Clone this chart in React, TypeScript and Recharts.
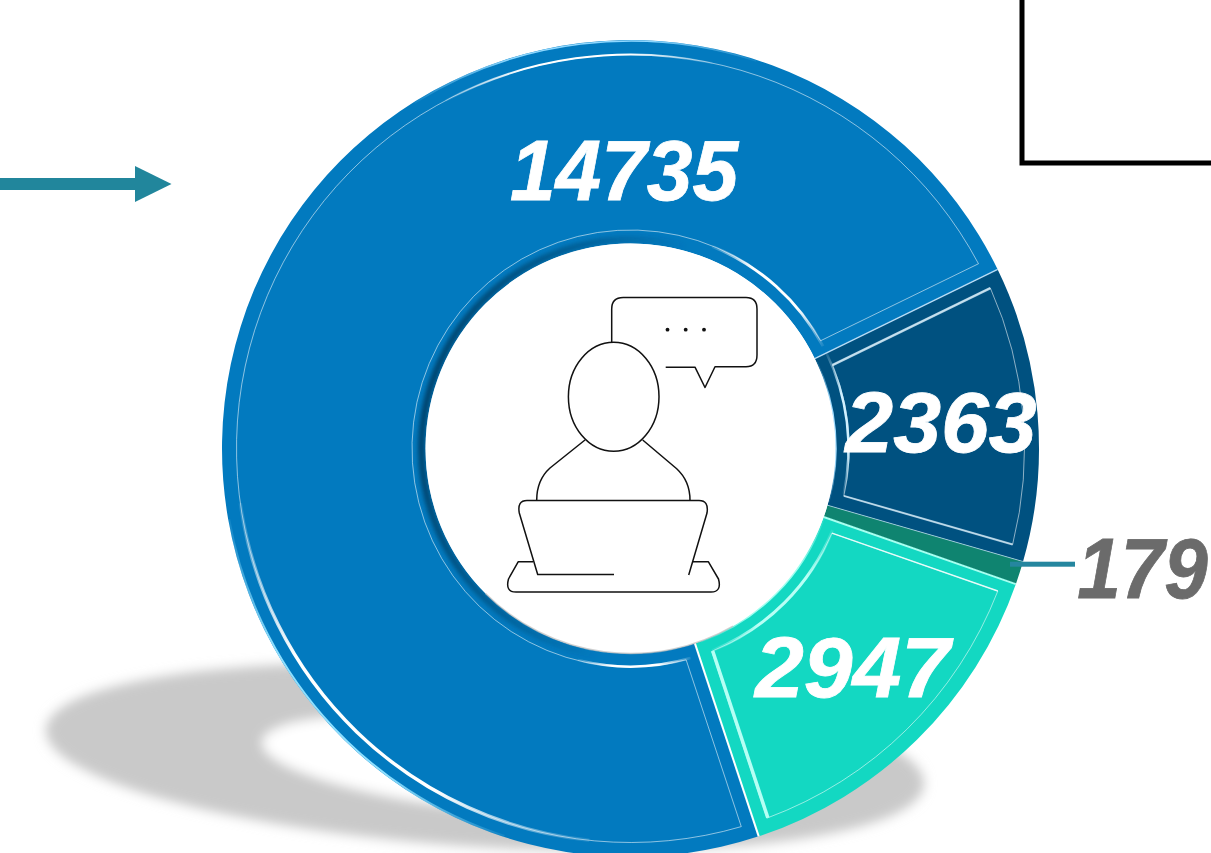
import { Pie, PieChart, Sector } from "recharts";

const sliceValues = [14735, 2947, 179, 2363];
const sliceColors = ["#027abf", "#13d8c2", "#0f8470", "#005180"];
const labelColors = ["#ffffff", "#ffffff", "#6b6b6b", "#ffffff"];
const labelCenters = [
  [624, 200],
  [852.5, 697],
  [1142.5, 598],
  [941, 452],
];
const labelStretch = [0.954, 1.02, 0.91, 1];

const data = sliceValues.map((value, i) => ({ value, fill: sliceColors[i] }));

const W = 1211;
const H = 853;
const CX = 630.5;
const CY = 448.5;
const OUTER = 408.5;
const INNER = 205;
const BEVEL = 13.5;

// curved glints on the bevel, as [radius, from angle, to angle, width, colour]
type Glint = [number, number, number, number, string];
const glints: Glint[][] = [
  [
    [394, 188, 264, 3.5, "#ffffff"],
    [394, 78, 118, 2, "#ffffff"],
    [218, 28, 68, 3, "#ffffff"],
    [218, 256, 286, 2.5, "#ffffff"],
    [407.5, 190, 252, 2, "#8fe0ff"],
    [407.5, 72, 122, 1.5, "#8fd8ff"],
  ],
  [
    [218, 292, 338, 3, "#b8fff5"],
    [205.5, 290, 340, 2, "#9ffff0"],
  ],
  [],
  [
    [218, 348, 386, 2.5, "#d0f0ff"],
    [205.5, 345, 385, 1.5, "#a0dcff"],
  ],
];

const rad = (deg: number) => (deg * Math.PI) / 180;
const px = (r: number, a: number) => CX + r * Math.cos(rad(a));
const py = (r: number, a: number) => CY - r * Math.sin(rad(a));

function arc(r: number, a0: number, a1: number) {
  const large = Math.abs(a1 - a0) > 180 ? 1 : 0;
  return `M${px(r, a0)} ${py(r, a0)}A${r} ${r} 0 ${large} 0 ${px(r, a1)} ${py(r, a1)}`;
}

function panelPath(a0: number, a1: number) {
  const ro = OUTER - 14.5;
  const ri = INNER + BEVEL;
  const oo = (Math.asin(BEVEL / ro) * 180) / Math.PI;
  const oi = (Math.asin(BEVEL / ri) * 180) / Math.PI;
  const large = a1 - oo - (a0 + oo) > 180 ? 1 : 0;
  return (
    `M${px(ro, a0 + oo)} ${py(ro, a0 + oo)}` +
    `A${ro} ${ro} 0 ${large} 0 ${px(ro, a1 - oo)} ${py(ro, a1 - oo)}` +
    `L${px(ri, a1 - oi)} ${py(ri, a1 - oi)}` +
    `A${ri} ${ri} 0 ${large} 1 ${px(ri, a0 + oi)} ${py(ri, a0 + oi)}Z`
  );
}

function radial(a: number, r0: number, r1: number, offset: number) {
  const o0 = (Math.asin(offset / r0) * 180) / Math.PI;
  const o1 = (Math.asin(offset / r1) * 180) / Math.PI;
  return `M${px(r0, a + o0)} ${py(r0, a + o0)}L${px(r1, a + o1)} ${py(r1, a + o1)}`;
}

function SliceShape(props: any) {
  const { index, startAngle, endAngle } = props;
  const a0 = Math.min(startAngle, endAngle);
  const a1 = Math.max(startAngle, endAngle);
  const small = a1 - a0 < 10;
  return (
    <g>
      <Sector {...props} stroke="none" />
      {!small && <path d={panelPath(a0, a1)} fill="none" stroke="#ffffff" strokeOpacity={0.55} strokeWidth={1} />}
      {glints[index].map(([r, from, to, width, color], i) => {
        const id = `glint-${index}-${i}`;
        return (
          <g key={id}>
            <linearGradient
              id={id}
              gradientUnits="userSpaceOnUse"
              x1={px(r, from)}
              y1={py(r, from)}
              x2={px(r, to)}
              y2={py(r, to)}
            >
              <stop offset="0" stopColor={color} stopOpacity={0.1} />
              <stop offset="0.3" stopColor={color} stopOpacity={1} />
              <stop offset="0.7" stopColor={color} stopOpacity={1} />
              <stop offset="1" stopColor={color} stopOpacity={0.1} />
            </linearGradient>
            <path d={arc(r, from, to)} fill="none" stroke={`url(#${id})`} strokeWidth={width} />
          </g>
        );
      })}
      {index === 1 && (
        <>
          <path d={radial(a0, INNER, OUTER, 0)} stroke="#ffffff" strokeWidth={2} />
          <path d={radial(a0, INNER + BEVEL, OUTER - 14.5, BEVEL + 1)} stroke="#b5fff4" strokeWidth={3.5} />
          <path d={radial(a1, INNER, OUTER, -1)} stroke="#a8fff0" strokeWidth={2} />
          <path d={radial(a1, INNER + BEVEL, OUTER - 14.5, -BEVEL)} stroke="#ffffff" strokeOpacity={0.8} strokeWidth={1.5} />
        </>
      )}
      {index === 3 && (
        <>
          <path d={radial(a1, INNER, OUTER, 0)} stroke="#cfeaff" strokeOpacity={0.85} strokeWidth={1.5} />
          <path d={radial(a1, INNER + BEVEL, OUTER - 14.5, -BEVEL)} stroke="#d6ecf8" strokeOpacity={0.85} strokeWidth={2.5} />
          <path d={radial(a0, INNER + BEVEL, OUTER - 14.5, BEVEL)} stroke="#d6ecf8" strokeOpacity={0.75} strokeWidth={2} />
          <path d={radial(a0, INNER, OUTER, 0)} stroke="#bfe4f0" strokeOpacity={0.7} strokeWidth={1} />
        </>
      )}
    </g>
  );
}

function ValueLabel(props: any) {
  const { index, value } = props;
  const [x, y] = labelCenters[index];
  return (
    <text
      transform={`translate(${x} ${y}) scale(${labelStretch[index]} 1)`}
      textAnchor="middle"
      fill={labelColors[index]}
      stroke={labelColors[index]}
      strokeWidth={0.8}
      fontFamily="'Liberation Sans', Arial, sans-serif"
      fontWeight={700}
      fontStyle="italic"
      fontSize={86}
    >
      {value}
    </text>
  );
}

function GroundShadow() {
  return (
    <svg width={W} height={H} style={{ position: "absolute", left: 0, top: 0 }}>
      <filter id="soft" x="-10%" y="-30%" width="120%" height="160%">
        <feGaussianBlur stdDeviation="6" />
      </filter>
      <g filter="url(#soft)">
        <ellipse cx={485} cy={757} rx={440} ry={90} fill="#c9c9c9" transform="rotate(3.6 485 757)" />
        <ellipse cx={483} cy={765} rx={222} ry={45} fill="#ffffff" transform="rotate(6 483 765)" />
      </g>
    </svg>
  );
}

function Overlay() {
  const ink = { fill: "none", stroke: "#111111", strokeWidth: 1.5, strokeLinejoin: "round" as const };
  return (
    <svg width={W} height={H} style={{ position: "absolute", left: 0, top: 0 }}>
      <defs>
        <linearGradient id="holeShade" gradientUnits="userSpaceOnUse" x1={410} y1={420} x2={640} y2={470}>
          <stop offset="0" stopColor="#003f66" stopOpacity={0.95} />
          <stop offset="1" stopColor="#003f66" stopOpacity={0} />
        </linearGradient>
        <filter id="bevelBlur" x="-20%" y="-20%" width="140%" height="140%">
          <feGaussianBlur stdDeviation="2.2" />
        </filter>
      </defs>
      <circle cx={CX} cy={CY} r={INNER + 4} fill="none" stroke="url(#holeShade)" strokeWidth={7} filter="url(#bevelBlur)" />
      <circle cx={CX} cy={CY} r={INNER} fill="#ffffff" />
      <path d={arc(INNER, 225, 300)} fill="none" stroke="#bdbdbd" strokeWidth={1.5} strokeOpacity={0.7} />

      {/* person at a laptop */}
      <path
        d="M611.7 342V309q0-11.5 11.5-11.5H746q11 0 11 11.5v46q0 11.7-11 11.7h-31L705 387.5 695 367.2H665.7"
        {...ink}
      />
      <circle cx={667.5} cy={329.7} r={1.9} fill="#111111" />
      <circle cx={685.7} cy={329.7} r={1.9} fill="#111111" />
      <circle cx={704} cy={329.7} r={1.9} fill="#111111" />
      <ellipse cx={613.7} cy={396.7} rx={45.3} ry={54.5} {...ink} />
      <path d="M585 440L550 468Q536.7 480 536.7 500.3" {...ink} />
      <path d="M642.7 440L676.7 468.7Q690 481 690 500.3" {...ink} />
      <path d="M614 574.5H537.7L519.3 513Q517 500.5 527 500.5H699Q709 500.5 707 513L688.7 575" {...ink} />
      <path d="M533 561.7H518.3L508.5 579Q505 592 516 592H711Q722 592 718.5 579L708.3 561.7H693" {...ink} />

      {/* leader of the smallest slice */}
      <rect x={1010} y={561.7} width={65} height={5} fill="#25869f" />

      {/* arrow on the left */}
      <rect x={0} y={178} width={136} height={12} fill="#21869c" />
      <path d="M135 166L171.5 184L135 202Z" fill="#21869c" />

      {/* corner of the box at top right */}
      <path d="M1022 0V163H1211" fill="none" stroke="#000000" strokeWidth={5} />
    </svg>
  );
}

export default function App() {
  return (
    <div style={{ position: "absolute", left: 0, top: 0, width: W, height: H, overflow: "hidden", background: "#ffffff" }}>
      <GroundShadow />
      <div style={{ position: "absolute", left: 0, top: 0 }}>
        <PieChart width={W} height={H} margin={{ top: 0, right: 0, bottom: 0, left: 0 }} accessibilityLayer={false}>
          <Pie
            data={data}
            dataKey="value"
            cx={CX}
            cy={CY}
            innerRadius={INNER}
            outerRadius={OUTER}
            startAngle={26}
            endAngle={386}
            stroke="none"
            shape={SliceShape}
            label={ValueLabel}
            labelLine={false}
            isAnimationActive={false}
          />
        </PieChart>
      </div>
      <Overlay />
    </div>
  );
}
